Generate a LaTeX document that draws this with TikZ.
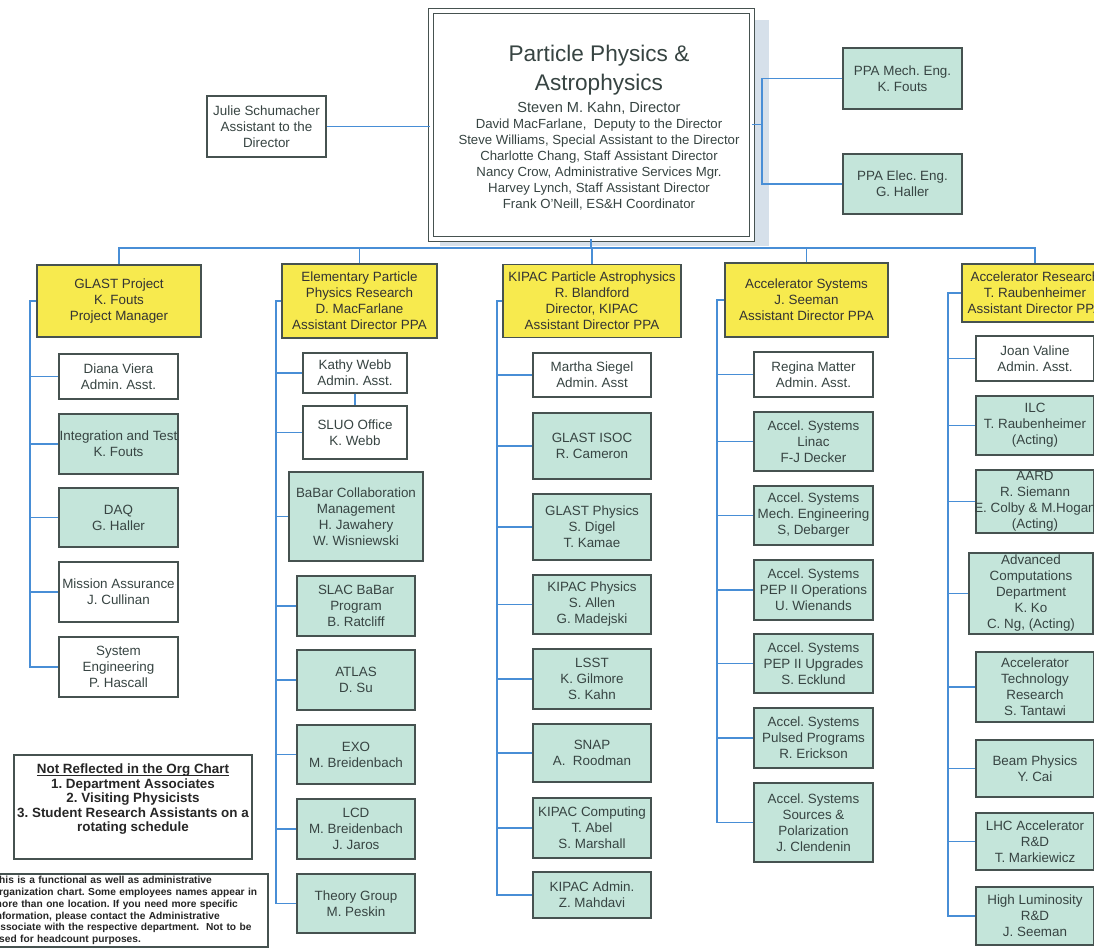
\documentclass[tikz,border=0pt]{standalone}
\usepackage{fontspec}
\setmainfont{Liberation Sans}
\usepackage{tikz}

\definecolor{linkblue}{RGB}{72,142,214}
\definecolor{boxline}{RGB}{70,82,80}
\definecolor{ink}{RGB}{55,68,66}
\definecolor{headyellow}{RGB}{247,234,78}
\definecolor{teamteal}{RGB}{196,229,218}
\definecolor{shadowgray}{RGB}{214,224,234}

\newcommand{\boxfont}{\fontsize{6.7}{8}\selectfont}
\newcommand{\ovr}[1]{\makebox[0pt]{#1}}
\newcommand{\ulin}[1]{\leavevmode\setbox0=\hbox{#1}\rlap{\rule[-1.2pt]{\wd0}{0.45pt}}\box0}
\frenchspacing

\tikzset{
  unit/.style={draw=boxline, line width=0.6pt, inner sep=0pt, align=center, font=\boxfont, text=ink},
  head/.style={unit, fill=headyellow, text=black!80},
  team/.style={unit, fill=teamteal},
  staff/.style={unit, fill=white},
  sz/.style 2 args={minimum width=#1*0.5pt, minimum height=#2*0.5pt},
  link/.style={draw=linkblue, line width=0.6pt},
}

\begin{document}
\begin{tikzpicture}[x=0.5pt, y=-0.5pt]
    \useasboundingbox (0,0) rectangle (1094,948);
    \clip (0,0) rectangle (1094,948);
    \fill[white] (0,0) rectangle (1094,948);

    % director's office
    \fill[shadowgray] (440,20) rectangle (769,246);
    \node[draw=boxline, line width=0.5pt, double=white, double distance=2pt, fill=white, sz={321}{228}] (ppa) at (591,124.5) {};
    \node[font=\fontsize{11.3}{14.5}\selectfont, text=ink, align=center] (ptitle) at (599,70) {Particle Physics \&\\Astrophysics};
    \node[font=\fontsize{6.6}{8}\selectfont, text=ink, align=center] (pnames) at (599,156) {{\fontsize{7.3}{8}\selectfont Steven M. Kahn, Director}\\David MacFarlane,\ \ Deputy to the Director\\Steve Williams, Special Assistant to the Director\\Charlotte Chang, Staff Assistant Director\\Nancy Crow, Administrative Services Mgr.\\Harvey Lynch, Staff Assistant Director\\Frank O'Neill, ES\&H Coordinator};

    \node[staff, sz={119}{61}] (julie) at (266.5,126.5) {Julie Schumacher\\Assistant to the\\Director};
    \node[team, sz={119}{61}] (mecheng) at (902.5,78.5) {PPA Mech. Eng.\\K. Fouts};
    \node[team, sz={119}{60}] (eleceng) at (902.5,184) {PPA Elec. Eng.\\G. Haller};
    \coordinate (engbus) at (762,124.5);
    \draw[link] (julie.east) -- (julie.east -| ppa.west);
    \draw[link] (ppa.east) -- (engbus) (mecheng.west) -| (engbus) |- (eleceng.west);

    % departments
    \node[head, sz={164}{72}] (glast) at (119,301) {GLAST Project\\K. Fouts\\Project Manager};
    \node[head, sz={155}{74}] (epp) at (359.5,301) {Elementary Particle\\Physics Research\\D. MacFarlane\\Assistant Director PPA};
    \node[head, sz={178}{73}] (kipac) at (592,301) {KIPAC Particle Astrophysics\\R. Blandford\\Director, KIPAC\\Assistant Director PPA};
    \node[head, sz={163}{74}] (accsys) at (806.5,300) {Accelerator Systems\\J. Seeman\\Assistant Director PPA};
    \node[head, sz={146}{58}] (accres) at (1035,293) {Accelerator Research\\T. Raubenheimer\\Assistant Director PPA};

    \coordinate (bus) at (591,248);
    \draw[link] (glast.north) |- (bus) -| (accres.north);
    \draw[link] (ppa.south) -- (bus);
    \draw[link] (epp.north) -- (epp.north |- bus) (kipac.north) -- (kipac.north |- bus) (accsys.north) -- (accsys.north |- bus);

    % GLAST
    \node[staff, sz={119}{45}] (g1) at (118.5,376.5) {Diana Viera\\Admin. Asst.};
    \node[team, sz={119}{60}] (g2) at (118.5,444) {\ovr{Integration and Test}\\K. Fouts};
    \node[team, sz={119}{59}] (g3) at (118.5,517.5) {DAQ\\G. Haller};
    \node[staff, sz={119}{60}] (g4) at (118.5,592) {Mission Assurance\\J. Cullinan};
    \node[staff, sz={119}{60}] (g5) at (118.5,667) {System\\Engineering\\P. Hascall};
    \coordinate (gtr) at (30,0);
    \draw[link] (glast.west) -- (gtr |- glast.west) |- (g5.west)
      (gtr |- g1.west) -- (g1.west) (gtr |- g2.west) -- (g2.west)
      (gtr |- g3.west) -- (g3.west) (gtr |- g4.west) -- (g4.west);

    % elementary particle physics
    \node[staff, sz={104}{40}] (e1) at (355,373) {Kathy Webb\\Admin. Asst.};
    \node[staff, sz={104}{53}] (e2) at (355,432.5) {SLUO Office\\K. Webb};
    \node[team, sz={134}{89}] (e3) at (356,516.5) {BaBar Collaboration\\Management\\H. Jawahery\\W. Wisniewski};
    \node[team, sz={118}{60}] (e4) at (356,606) {SLAC BaBar\\Program\\B. Ratcliff};
    \node[team, sz={118}{60}] (e5) at (356,680) {ATLAS\\D. Su};
    \node[team, sz={118}{59}] (e6) at (356,754.5) {EXO\\M. Breidenbach};
    \node[team, sz={118}{60}] (e7) at (356,829) {LCD\\M. Breidenbach\\J. Jaros};
    \node[team, sz={118}{59}] (e8) at (356,903.5) {Theory Group\\M. Peskin};
    \coordinate (etr) at (276,0);
    \draw[link] (epp.west) -- (etr |- epp.west) |- (e8.west)
      (etr |- e1.west) -- (e1.west) (etr |- e2.west) -- (e2.west)
      (etr |- e3.west) -- (e3.west) (etr |- e4.west) -- (e4.west)
      (etr |- e5.west) -- (e5.west) (etr |- e6.west) -- (e6.west)
      (etr |- e7.west) -- (e7.west);
    \draw[link] (e1.south) -- (e2.north);

    % KIPAC
    \node[staff, sz={118}{44}] (k1) at (592,375) {Martha Siegel\\Admin. Asst};
    \node[team, sz={118}{66}] (k2) at (592,446) {GLAST ISOC\\R. Cameron};
    \node[team, sz={118}{66}] (k3) at (592,527) {GLAST Physics\\S. Digel\\T. Kamae};
    \node[team, sz={118}{59}] (k4) at (592,604.5) {KIPAC Physics\\S. Allen\\G. Madejski};
    \node[team, sz={118}{60}] (k5) at (592,679) {LSST\\K. Gilmore\\S. Kahn};
    \node[team, sz={118}{58}] (k6) at (592,753) {SNAP\\A.\ \ Roodman};
    \node[team, sz={118}{60}] (k7) at (592,828) {KIPAC Computing\\T. Abel\\S. Marshall};
    \node[team, sz={118}{46}] (k8) at (592,895) {KIPAC Admin.\\Z. Mahdavi};
    \coordinate (ktr) at (497,0);
    \draw[link] (kipac.west) -- (ktr |- kipac.west) |- (k8.west)
      (ktr |- k1.west) -- (k1.west) (ktr |- k2.west) -- (k2.west)
      (ktr |- k3.west) -- (k3.west) (ktr |- k4.west) -- (k4.west)
      (ktr |- k5.west) -- (k5.west) (ktr |- k6.west) -- (k6.west)
      (ktr |- k7.west) -- (k7.west);

    % accelerator systems
    \node[staff, sz={119}{45}] (a1) at (813.5,374.5) {Regina Matter\\Admin. Asst.};
    \node[team, sz={119}{59}] (a2) at (813.5,441.5) {Accel. Systems\\Linac\\F-J Decker};
    \node[team, sz={119}{59}] (a3) at (813.5,515.5) {Accel. Systems\\Mech. Engineering\\S, Debarger};
    \node[team, sz={119}{60}] (a4) at (813.5,590) {Accel. Systems\\PEP II Operations\\U. Wienands};
    \node[team, sz={119}{59}] (a5) at (813.5,663.5) {Accel. Systems\\PEP II Upgrades\\S. Ecklund};
    \node[team, sz={119}{60}] (a6) at (813.5,738) {Accel. Systems\\Pulsed Programs\\R. Erickson};
    \node[team, sz={119}{79}] (a7) at (813.5,822.5) {Accel. Systems\\Sources \&\\Polarization\\J. Clendenin};
    \coordinate (atr) at (717,0);
    \draw[link] (accsys.west) -- (atr |- accsys.west) |- (a7.west)
      (atr |- a1.west) -- (a1.west) (atr |- a2.west) -- (a2.west)
      (atr |- a3.west) -- (a3.west) (atr |- a4.west) -- (a4.west)
      (atr |- a5.west) -- (a5.west) (atr |- a6.west) -- (a6.west);

    % accelerator research
    \node[staff, sz={118}{45}] (r1) at (1035,358.5) {Joan Valine\\Admin. Asst.};
    \node[team, sz={118}{59}] (r2) at (1035,425.5) {ILC\\T. Raubenheimer\\(Acting)};
    \node[team, sz={118}{63}] (r3) at (1035,501.5) {AARD\\R. Siemann\\\ovr{E. Colby \& M.Hogan}\\(Acting)};
    \node[team, sz={124}{81}] (r4) at (1031,593.5) {Advanced\\Computations\\Department\\K. Ko\\C. Ng, (Acting)};
    \node[team, sz={118}{70}] (r5) at (1035,687) {Accelerator\\Technology\\Research\\S. Tantawi};
    \node[team, sz={118}{57}] (r6) at (1035,768.5) {Beam Physics\\Y. Cai};
    \node[team, sz={118}{57}] (r7) at (1035,841.5) {LHC Accelerator\\R\&D\\T. Markiewicz};
    \node[team, sz={118}{58}] (r8) at (1035,916) {High Luminosity\\R\&D\\J. Seeman};
    \coordinate (rtr) at (948,0);
    \draw[link] (accres.west) -- (rtr |- accres.west) |- (r8.west)
      (rtr |- r1.west) -- (r1.west) (rtr |- r2.west) -- (r2.west)
      (rtr |- r3.west) -- (r3.west) (rtr |- r4.west) -- (r4.west)
      (rtr |- r5.west) -- (r5.west) (rtr |- r6.west) -- (r6.west)
      (rtr |- r7.west) -- (r7.west);

    % notes
    \node[unit, fill=white, font=\bfseries\fontsize{6.7}{7.2}\selectfont, text=black!85, sz={238}{104}] (notes) at (133,807) {\ulin{Not Reflected in the Org Chart}\\1. Department Associates\\2. Visiting Physicists\\3. Student Research Assistants on a\\rotating schedule\\[2pt]~};
    \node[unit, fill=white, font=\bfseries\fontsize{5.1}{5.9}\selectfont, text=black!85, align=left, text width=136pt, inner xsep=1.5pt, minimum height=36.5pt] (disclaim) at (129,910.5) {This is a functional as well as administrative\\organization chart. Some employees names appear in\\more than one location. If you need more specific\\information, please contact the Administrative\\Associate with the respective department.\ \ Not to be\\used for headcount purposes.};
\end{tikzpicture}
\end{document}
